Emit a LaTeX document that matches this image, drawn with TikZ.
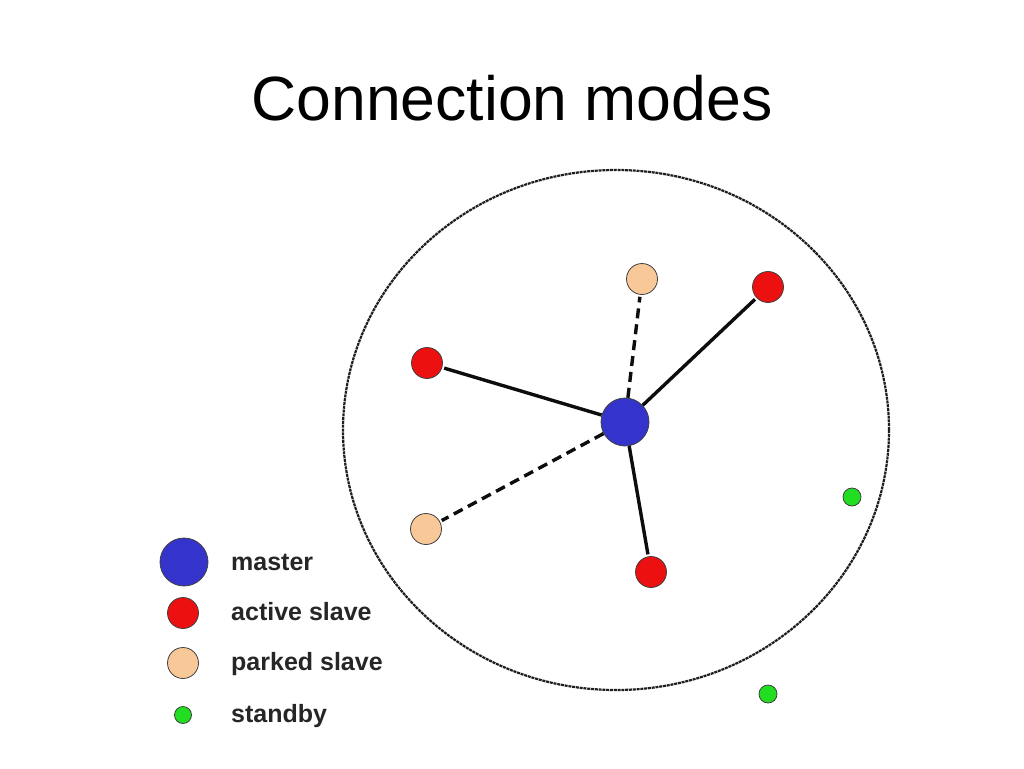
\documentclass[tikz,border=0pt]{standalone}
\usepackage{fontspec}
\setmainfont{Liberation Sans}
\definecolor{mblue}{RGB}{52,52,204}
\definecolor{ared}{RGB}{236,16,16}
\definecolor{ppeach}{RGB}{248,200,152}
\definecolor{sgreen}{RGB}{34,221,34}
\definecolor{ringc}{RGB}{30,30,30}
\begin{document}
\begin{tikzpicture}[x=1pt,y=-1pt,
  dev/.style={circle, draw=black!75, line width=0.8pt, inner sep=0pt},
  master/.style={dev, fill=mblue, minimum size=48pt},
  active/.style={dev, fill=ared, minimum size=31pt},
  parked/.style={dev, fill=ppeach, minimum size=31pt},
  standby/.style={dev, fill=sgreen, minimum size=18pt},
  link/.style={line width=3.4pt, black!95},
  parklink/.style={link, dash pattern=on 10pt off 6pt},
  ring/.style={draw=ringc, line width=2.2pt, dash pattern=on 3pt off 0.8pt},
  lbl/.style={font=\bfseries\fontsize{25}{30}\selectfont, text=black!85, anchor=base west, inner sep=0pt},
  title/.style={font=\fontsize{62.5}{70}\selectfont, anchor=base, inner sep=0pt}
]
\useasboundingbox[fill=white] (0,0) rectangle (1024,768);
\node[title] (t) at (512,120) {Connection modes};
% piconet boundary
\draw[ring] (616,430) ellipse [x radius=273pt, y radius=260pt];
% devices
\node[master] (m) at (625,422) {};
\node[parked] (p1) at (642,279) {};
\node[active] (a1) at (768,287) {};
\node[active] (a2) at (427,363) {};
\node[parked] (p2) at (426,529) {};
\node[active] (a3) at (651,572) {};
\node[standby] (s1) at (852,497) {};
\node[standby] (s2) at (768,694) {};
% links
\draw[link, shorten >=2pt] (m) -- (a1);
\draw[link, shorten >=2pt] (m) -- (a2);
\draw[link, shorten >=2pt] (m) -- (a3);
\draw[parklink, shorten >=2pt] (m) -- (p1);
\draw[parklink, shorten >=2pt] (m) -- (p2);
% legend
\node[master] (lm) at (184,562) {};
\node[active] (la) at (183,613) {};
\node[parked] (lp) at (183,663) {};
\node[standby, minimum size=17pt] (ls) at (183,715) {};
\node[lbl] (tm) at (231,570) {master};
\node[lbl] (ta) at (231,620) {active slave};
\node[lbl] (tp) at (231,670) {parked slave};
\node[lbl] (ts) at (231,722) {standby};
\end{tikzpicture}
\end{document}
